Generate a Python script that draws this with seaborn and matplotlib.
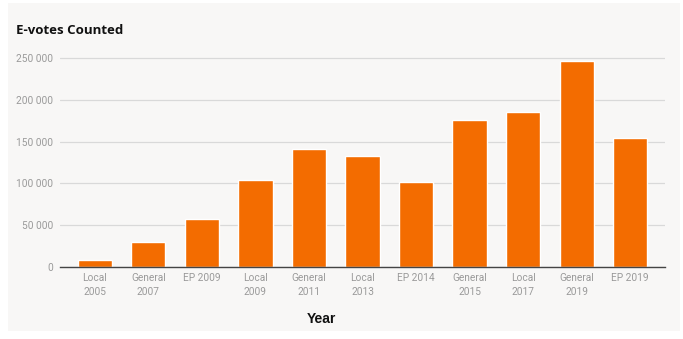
import matplotlib
matplotlib.use("Agg")
import matplotlib.pyplot as plt
import seaborn as sns
import pandas as pd
from matplotlib.patches import Rectangle
from matplotlib.ticker import FuncFormatter

categories = ["Local\n2005", "General\n2007", "EP 2009", "Local\n2009", "General\n2011",
              "Local\n2013", "EP 2014", "General\n2015", "Local\n2017", "General\n2019", "EP 2019"]
votes = [8500, 30000, 58000, 104000, 141000, 133000, 102000, 176000, 185000, 247000, 155000]
y_ticks = [0, 50000, 100000, 150000, 200000, 250000]

df = pd.DataFrame({"Year": categories, "Votes": votes})

sns.set_theme(style="white")
plt.rcParams['font.family'] = ['Roboto', 'DejaVu Sans']

fig = plt.figure(figsize=(6.83, 3.39), dpi=100)
fig.patch.set_facecolor("white")
fig.patches.append(Rectangle((8/683, 8/339), 672/683, 328/339, transform=fig.transFigure,
                             facecolor="#f8f7f6", edgecolor="none", zorder=-10))

ax = fig.add_axes([60/683, (339-267)/339, 605/683, (267-54)/339])
ax.set_facecolor("none")

sns.barplot(data=df, x="Year", y="Votes", color="#f36c00", width=0.64, saturation=1, ax=ax, zorder=3)

ax.set_xlim(-0.65, 10.65)
ax.set_ylim(0, 255000)
ax.set_yticks(y_ticks)
ax.yaxis.set_major_formatter(FuncFormatter(lambda v, p: f"{int(v):,}".replace(",", " ")))
ax.grid(axis="y", color="#d9d9d9", linewidth=0.9, zorder=0)
ax.tick_params(axis="both", length=0, labelsize=7.3, labelcolor="#9a9a9a", pad=4)
ax.tick_params(axis="y", pad=5)
for s in ["top", "right", "left"]:
    ax.spines[s].set_visible(False)
ax.spines["bottom"].set_color("#444444")
ax.spines["bottom"].set_linewidth(1.0)
ax.spines["bottom"].set_zorder(4)
for lbl in ax.get_xticklabels():
    lbl.set_linespacing(1.5)

ax.set_ylabel("")
ax.set_xlabel("")
fig.text(321/683, 1 - 319/339, "Year", fontsize=10, fontweight="bold",
         family=["Liberation Sans", "DejaVu Sans"], color="#111111", va="center", ha="center")

fig.text(16/683, 1 - 31/339, "E-votes Counted", fontsize=9.5, fontweight="bold",
         family=["Open Sans", "DejaVu Sans"], color="#111111", va="center", ha="left")

fig.savefig("out.png", dpi=100, facecolor=fig.get_facecolor())
